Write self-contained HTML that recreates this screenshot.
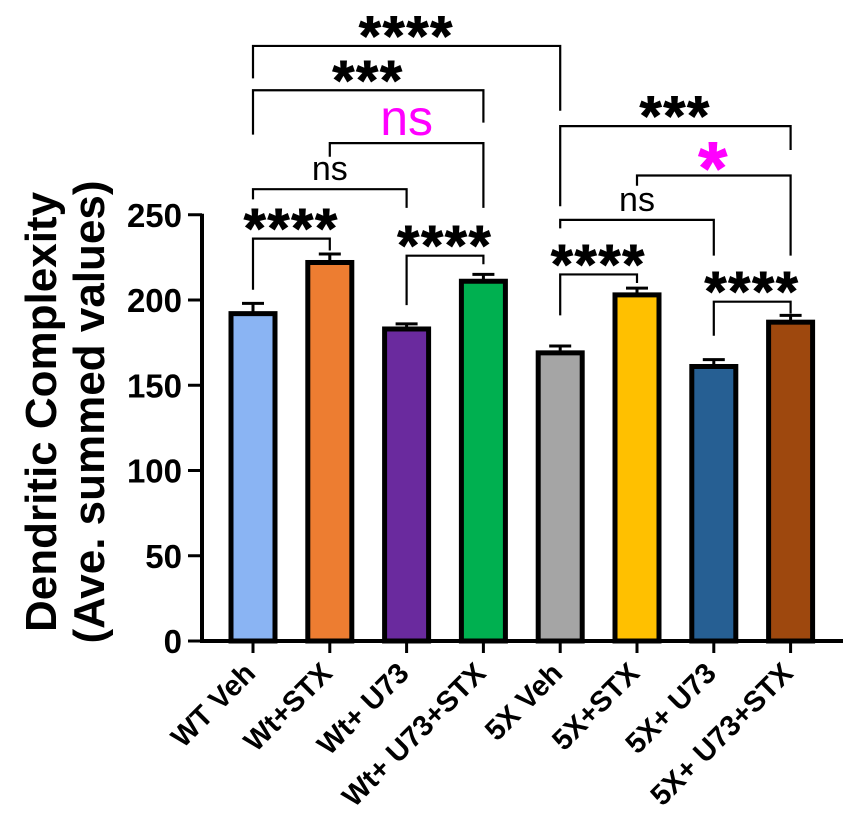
<!DOCTYPE html>
<html><head><meta charset="utf-8"><style>
html,body{margin:0;padding:0;background:#fff;}
svg{display:block;font-family:"Liberation Sans",Arial,sans-serif;}
</style></head><body>
<svg id="chart" width="851" height="835" viewBox="0 0 851 835" xmlns="http://www.w3.org/2000/svg"></svg>
<script>
const categories = ["WT Veh","Wt+STX","Wt+ U73","Wt+ U73+STX","5X Veh","5X+STX","5X+ U73","5X+ U73+STX"];
const values = [192, 222, 183, 211, 169, 203, 161, 187];
const errors = [6, 5, 3, 4, 4, 4, 4, 4];
const colors = ["#8ab4f3","#ed7d31","#6a2a9e","#00b050","#a5a5a5","#ffc000","#265f93","#9e480e"];
const yTicks = [0, 50, 100, 150, 200, 250];
const bracketFrom = [0,0,1,0,0,2,4,5,4,4,6];
const bracketTo   = [4,3,3,2,1,3,7,7,6,5,7];
const bracketLevel= [349,323,292,265,236,226,302,273,247,215,199];
const bracketText = ["****","***","ns","ns","****","****","***","*","ns","****","****"];
const bracketMag  = [false,false,true,false,false,false,false,true,false,false,false];
const leftLeg  = [330,297,284,259,206,197,255,267,242,191,179];
const rightLeg = [311,304,254,254,229,221,288,226,226,210,192];

const svg = document.getElementById('chart');
const NS = "http://www.w3.org/2000/svg";
const x0 = 253, step = 76.8, y0 = 641, ppu = 1.705, barW = 44;
const xPos = i => x0 + i*step;
const yPos = v => y0 - v*ppu;
function mk(tag, attrs, parent){ const e=document.createElementNS(NS,tag); for(const k in attrs) e.setAttribute(k,attrs[k]); (parent||svg).appendChild(e); return e; }

const yAxis = mk('line',{x1:202,y1:yPos(250)-1,x2:202,y2:y0+2,stroke:'#000','stroke-width':4});


const xAxis = mk('line',{x1:200,y1:y0,x2:843,y2:y0,stroke:'#000','stroke-width':4});



yTicks.forEach(t=>{
  mk('line',{x1:188,y1:yPos(t),x2:202,y2:yPos(t),stroke:'#000','stroke-width':3});
  const tx = mk('text',{x:182,y:yPos(t)+12,'text-anchor':'end','font-size':33,'font-weight':'bold'});
  tx.textContent = t;
  
  
});

const title = mk('text',{transform:'translate(56,412) rotate(-90)','text-anchor':'middle','font-size':44,'font-weight':'bold'});
title.textContent = 'Dendritic Complexity';


const title2 = mk('text',{transform:'translate(104,412) rotate(-90)','text-anchor':'middle','font-size':44,'font-weight':'bold'});
title2.textContent = '(Ave. summed values)';



categories.forEach((c,i)=>{
  const cx = xPos(i);
  const top = yPos(values[i]);
  const eTop = yPos(values[i]+errors[i]);
  const err = mk('g',{});
  
  
  mk('line',{x1:cx,y1:eTop,x2:cx,y2:top,stroke:'#000','stroke-width':3},err);
  mk('line',{x1:cx-11,y1:eTop,x2:cx+11,y2:eTop,stroke:'#000','stroke-width':3},err);
  const r = mk('rect',{x:cx-barW/2,y:top,width:barW,height:y0-top,fill:colors[i],stroke:'#000','stroke-width':5});
  
  
  mk('line',{x1:cx,y1:y0,x2:cx,y2:y0+12,stroke:'#000','stroke-width':3});
  const lb = mk('text',{transform:`translate(${cx+4},${y0+34}) rotate(-45)`,'text-anchor':'end','font-size':29,'font-weight':'bold'});
  lb.textContent = c;
  
  
});

bracketFrom.forEach((f,k)=>{
  const xa = xPos(f), xb = xPos(bracketTo[k]);
  const y = yPos(bracketLevel[k]);
  const g = mk('g',{});
  
  
  mk('path',{d:`M${xa},${yPos(leftLeg[k])} L${xa},${y} L${xb},${y} L${xb},${yPos(rightLeg[k])}`,fill:'none',stroke:'#000','stroke-width':2.2},g);
  const isStar = bracketText[k].indexOf('*')>=0;
  const mag = bracketMag[k];
  let attrs = {x:(xa+xb)/2,'text-anchor':'middle',fill:mag?'#ff00ff':'#000'};
  if(isStar){
    attrs['font-size'] = mag?74:56; attrs['font-weight']='bold';
    attrs['letter-spacing'] = 2;
    attrs.y = y - 22 + (mag?40:31);
    attrs.stroke = mag?'#ff00ff':'#000'; attrs['stroke-width']=1;
  } else if(mag){
    attrs['font-size']=50; attrs.y = y - 8;
  } else {
    attrs['font-size']=34; attrs.y = y - 9;
  }
  const t = mk('text',attrs,g);
  t.textContent = bracketText[k];
});
</script>
</body></html>
